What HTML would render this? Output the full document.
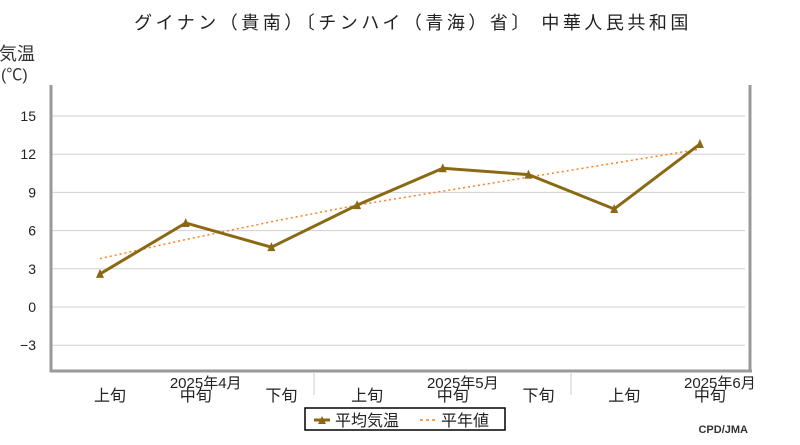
<!DOCTYPE html>
<html><head><meta charset="utf-8"><style>
body{margin:0;background:#fff;}
svg text{font-family:"Liberation Sans","Noto Sans CJK JP",sans-serif;}
</style></head><body>
<svg id="chart" width="800" height="440" xmlns="http://www.w3.org/2000/svg">
<text x="413" y="29" font-size="18" letter-spacing="3.5" text-anchor="middle" fill="#222">グイナン（貴南）〔チンハイ（青海）省〕 中華人民共和国</text>
<text x="-1" y="60" font-size="18" fill="#333">気温</text>
<text x="1" y="80" font-size="16" fill="#333">(℃)</text>
<g id="grid"></g><g id="yt"></g><g id="xt"></g><g id="series"></g>
<line x1="51" y1="85" x2="51" y2="372" stroke="#999" stroke-width="3"/>
<line x1="50" y1="371" x2="752" y2="371" stroke="#999" stroke-width="3"/>
<line x1="750" y1="85" x2="750" y2="372" stroke="#999" stroke-width="3"/>
<line x1="314" y1="372" x2="314" y2="395" stroke="#ccc"/>
<line x1="571" y1="372" x2="571" y2="395" stroke="#ccc"/>
<g>
<rect x="305" y="408" width="200" height="22" fill="#fff" stroke="#000" stroke-width="1.5"/>
<line x1="314" y1="420" x2="330" y2="420" stroke="#8B6914" stroke-width="3"/>
<path d="M318 424 L322 416 L326 424Z" fill="#8B6914"/>
<text x="335" y="426" font-size="16" fill="#222">平均気温</text>
<line x1="420" y1="420" x2="436" y2="420" stroke="#FF7F1E" stroke-width="1.5" stroke-dasharray="3,3"/>
<text x="441" y="426" font-size="16" fill="#222">平年値</text>
</g>
<text x="748" y="433" font-size="11" font-weight="bold" text-anchor="end" fill="#333" font-family="Liberation Mono,monospace">CPD/JMA</text>
</svg>
<script>
const categories=["上旬","中旬","下旬","上旬","中旬","下旬","上旬","中旬"];
const monthLabels=["2025年4月","2025年5月","2025年6月"];
const monthIndex=[1,4,7];
const avgTemp=[2.6,6.6,4.7,8.0,10.9,10.4,7.7,12.8];
const normalTemp=[3.8,5.3,6.7,8.0,9.1,10.2,11.3,12.4];
const yTicks=[15,12,9,6,3,0,-3];
const NS="http://www.w3.org/2000/svg";
const x=i=>100+i*85.7;
const y=v=>307-v*12.73;
function mk(tag,attrs,parent,txt){const e=document.createElementNS(NS,tag);for(const k in attrs)e.setAttribute(k,attrs[k]);if(txt!==undefined)e.textContent=txt;document.getElementById(parent).appendChild(e);return e;}
yTicks.forEach(t=>{
 const g=mk('line',{x1:52,x2:745,y1:y(t),y2:y(t),stroke:'#d0d0d0'},'grid');
 
 
 const l=mk('text',{x:36,y:y(t)+5,'font-size':14,'text-anchor':'end',fill:'#222'},'yt',t<0?'−'+(-t):String(t));
 
 
});
categories.forEach((c,i)=>{
 const l=mk('text',{x:x(i)+10,y:401,'font-size':16,'text-anchor':'middle',fill:'#222'},'xt',c);
 
 
});
monthLabels.forEach((m,k)=>{
 const l=mk('text',{x:x(monthIndex[k])+20,y:388,'font-size':15,'text-anchor':'middle',fill:'#222'},'xt',m);
 
 
});
const np=normalTemp.map((v,i)=>x(i)+','+y(v)).join(' ');
const nl=mk('polyline',{points:np,fill:'none',stroke:'#FF7F1E','stroke-width':1.5,'stroke-dasharray':'2,3'},'series');


const ap=avgTemp.map((v,i)=>x(i)+','+y(v)).join(' ');
const al=mk('polyline',{points:ap,fill:'none',stroke:'#8B6914','stroke-width':3},'series');


avgTemp.forEach((v,i)=>{
 const cx=x(i),cy=y(v);
 const p=mk('path',{d:`M${cx-4} ${cy+4} L${cx} ${cy-5} L${cx+4} ${cy+4}Z`,fill:'#8B6914'},'series');
 
 
});
</script>
</body></html>
